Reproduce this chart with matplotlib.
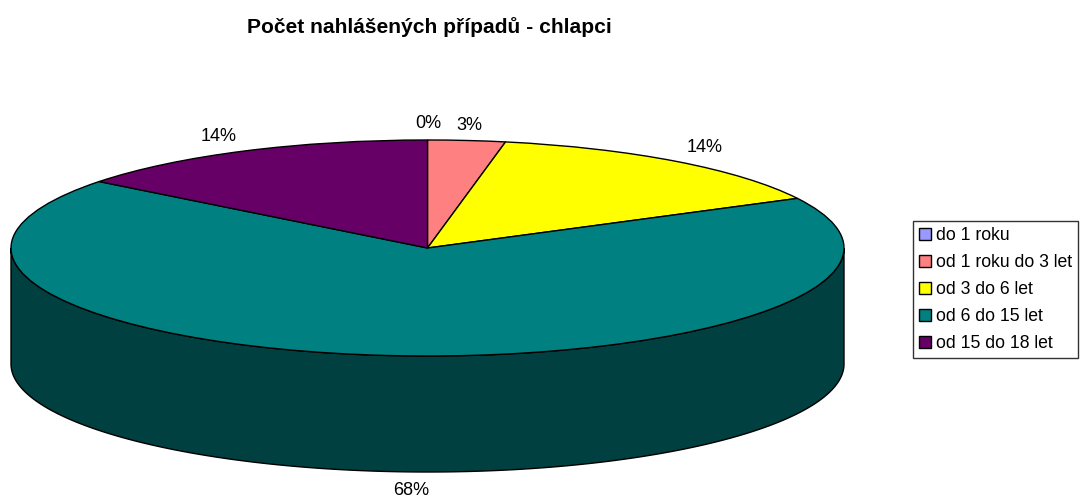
import numpy as np
import matplotlib
matplotlib.use("Agg")
import matplotlib.pyplot as plt
from matplotlib.patches import Patch

categories = ["do 1 roku", "od 1 roku do 3 let", "od 3 do 6 let", "od 6 do 15 let", "od 15 do 18 let"]
values = [0.0, 3.0, 14.4, 68.15, 14.45]
colors = ["#9999FF", "#FF8080", "#FFFF00", "#008080", "#660066"]
wall_color = "#004040"
title = "Počet nahlášených případů - chlapci"
label_px = [(428, 124), (469, 125), (705, 147), (411, 490), (219, 136)]

plt.rcParams["font.family"] = ["Liberation Sans", "DejaVu Sans"]
W, H = 1080, 498
fig = plt.figure(figsize=(W / 100, H / 100), dpi=100, facecolor="white")

# pie ellipse in pixels
left, right, top, bottom, depth = 11, 844, 140, 356, 116
ax = fig.add_axes([left / W, 1 - (bottom + depth) / H, (right - left) / W, (bottom + depth - top) / H])
d = depth / ((bottom - top) / 2)

t = np.linspace(np.pi, 2 * np.pi, 300)
xs = np.concatenate([np.cos(t), np.cos(t[::-1])])
ys = np.concatenate([np.sin(t) - d, np.sin(t[::-1])])
ax.fill(xs, ys, facecolor=wall_color, edgecolor="black", linewidth=1.0, clip_on=False)

ax.pie(values, colors=colors, startangle=90, counterclock=False, radius=1,
       wedgeprops=dict(edgecolor="black", linewidth=1.0, clip_on=False))
ax.set_aspect("auto")
ax.set_xlim(-1, 1)
ax.set_ylim(-1 - d, 1)
ax.axis("off")

total = sum(values)
for v, (px, py) in zip(values, label_px):
    fig.text(px / W, 1 - py / H, f"{round(v / total * 100)}%", ha="center", va="center",
             fontsize=13, color="black")

fig.text(429 / W, 1 - 27 / H, title, ha="center", va="center", fontsize=15.1, fontweight="bold")

handles = [Patch(facecolor=c, edgecolor="black", linewidth=1.0) for c in colors]
fig.legend(handles, categories, loc="upper left", bbox_to_anchor=(913 / W, 1 - 221 / H),
           bbox_transform=fig.transFigure, fontsize=12.7, frameon=True, fancybox=False,
           edgecolor="#333333", framealpha=1, borderaxespad=0, borderpad=0.36, labelspacing=0.56,
           handlelength=0.66, handleheight=0.66, handletextpad=0.28).get_frame().set_linewidth(1.0)

fig.savefig("out.png", dpi=100)
